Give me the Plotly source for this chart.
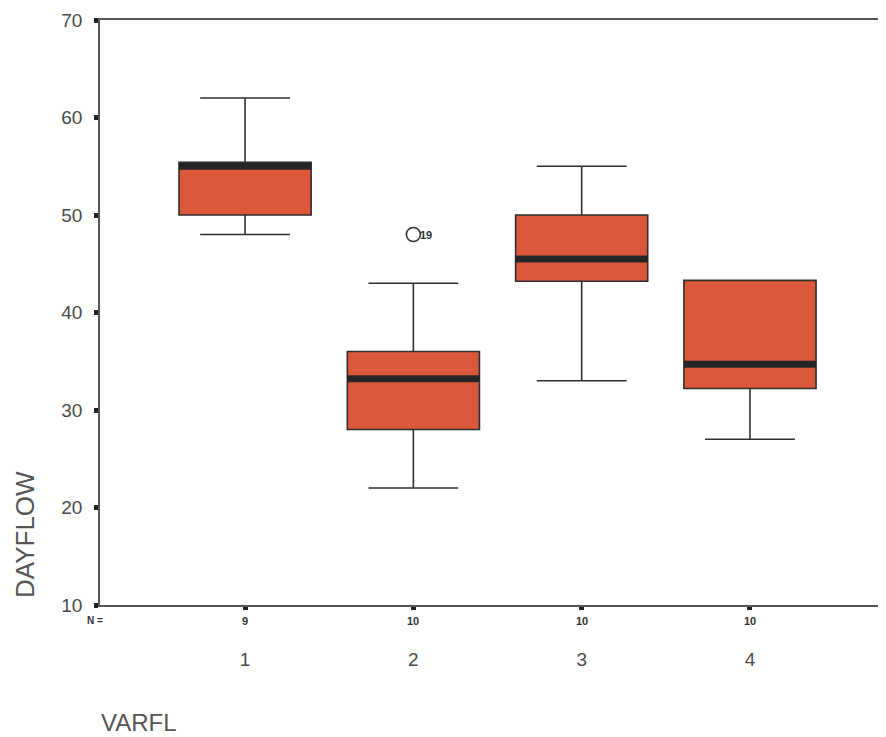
import plotly.graph_objects as go

# ---- data ----
categories = [1, 2, 3, 4]
n_counts = ["9", "10", "10", "10"]
q1 = [50.0, 28.0, 43.2, 32.2]
median = [55.0, 33.2, 45.5, 34.7]
q3 = [55.4, 36.0, 50.0, 43.3]
lower_whisker = [48.0, 22.0, 33.0, 27.0]
upper_whisker = [62.0, 43.0, 55.0, 43.3]
outlier_x = [2]
outlier_y = [48.0]
outlier_labels = ["19"]

BOX_W = 0.785
FILL = "#DD583B"
EDGE = "#2f2f2f"
TXT = "#4a4a4a"
FONT = "Liberation Sans, Arial"

# page body has an 8px margin; figure sized to fit inside it
OFF = 8
W, H = 870, 729
ML, MR, MT, MB = 100 - OFF, 0, 20 - OFF, H - (605 - OFF)
pw, ph = W - ML - MR, H - MT - MB
PX_PER_CAT = 168.3
X0 = 0.138
X1 = X0 + pw / PX_PER_CAT

fig = go.Figure()

fig.add_trace(go.Box(
    x=categories,
    q1=q1, median=median, q3=q3,
    lowerfence=lower_whisker, upperfence=upper_whisker,
    width=BOX_W, whiskerwidth=0.68,
    fillcolor=FILL,
    line=dict(color=EDGE, width=1.6),
    boxpoints=False,
    showlegend=False,
    hoverinfo="skip",
))

# thick median bars
mx, my = [], []
for c, m in zip(categories, median):
    mx += [c - BOX_W / 2, c + BOX_W / 2, None]
    my += [m, m, None]
fig.add_trace(go.Scatter(
    x=mx, y=my, mode="lines",
    line=dict(color="#262626", width=7),
    showlegend=False, hoverinfo="skip",
))

# outlier
fig.add_trace(go.Scatter(
    x=outlier_x, y=outlier_y, mode="markers",
    marker=dict(symbol="circle-open", size=14, color="#333", line=dict(width=1.6)),
    showlegend=False, hoverinfo="skip",
))
for ox, oy, lab in zip(outlier_x, outlier_y, outlier_labels):
    fig.add_annotation(x=ox, y=oy, xref="x", yref="y", text="<b>" + lab + "</b>",
                       showarrow=False, xanchor="left", yanchor="middle", xshift=5,
                       font=dict(family=FONT, size=11, color="#333"))

def px_to_paper(sx, sy):
    return ((sx - OFF) - ML) / pw, (H - MB - (sy - OFF)) / ph

# N = row
nx, _ = px_to_paper(95, 0)
fig.add_annotation(x=nx, y=0, xref="paper", yref="paper", text="<b>N =</b>",
                   showarrow=False, xanchor="center", yanchor="top", yshift=-8,
                   font=dict(family=FONT, size=10, color="#333"))
for c, n in zip(categories, n_counts):
    fig.add_annotation(x=c, y=0, xref="x", yref="paper", text="<b>" + n + "</b>",
                       showarrow=False, xanchor="center", yanchor="top", yshift=-8,
                       font=dict(family=FONT, size=11, color="#333"))

# axis titles
tx, ty = px_to_paper(25, 535)
fig.add_annotation(x=tx, y=ty, xref="paper", yref="paper", text="DAYFLOW",
                   showarrow=False, textangle=-90, xanchor="center", yanchor="middle",
                   font=dict(family=FONT, size=26, color="#555"))
tx, ty = px_to_paper(99, 722)
fig.add_annotation(x=tx, y=ty, xref="paper", yref="paper", text="VARFL",
                   showarrow=False, xanchor="left", yanchor="middle",
                   font=dict(family=FONT, size=24, color="#555"))

fig.update_layout(
    width=W, height=H,
    margin=dict(l=ML, r=MR, t=MT, b=MB),
    plot_bgcolor="white", paper_bgcolor="white",
    font=dict(family=FONT, color=TXT),
)
fig.update_xaxes(
    range=[X0, X1],
    tickvals=categories, ticktext=[str(c) for c in categories],
    ticks="outside", ticklen=3, tickwidth=5, tickcolor="#222",
    ticklabelstandoff=33,
    tickfont=dict(size=19, color=TXT),
    showline=True, linecolor="#555", linewidth=1.5, mirror=True,
    showgrid=False, zeroline=False,
)
fig.update_yaxes(
    range=[10, 70], tickvals=[10, 20, 30, 40, 50, 60, 70],
    ticks="outside", ticklen=4, tickwidth=5, tickcolor="#222",
    ticklabelstandoff=8,
    tickfont=dict(size=19, color=TXT),
    showline=True, linecolor="#555", linewidth=1.5, mirror=False,
    showgrid=False, zeroline=False,
)

fig.write_html("out.html")
